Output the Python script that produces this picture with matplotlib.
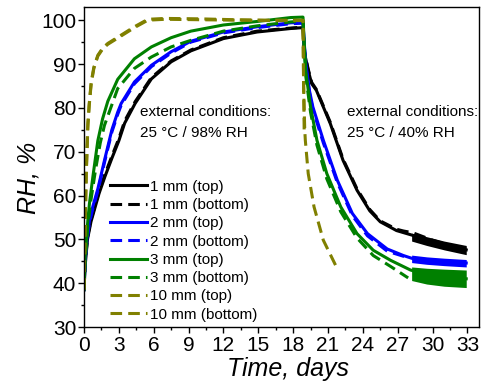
import matplotlib
matplotlib.use("Agg")
import matplotlib.pyplot as plt
from matplotlib.ticker import MultipleLocator

plt.rcParams['font.family'] = ['Liberation Sans', 'DejaVu Sans']

# ---------------- data (time in days, RH in %) ----------------
black_top_t = [0, 0.1, 0.3, 0.6, 0.9, 1.3, 1.8, 2.4, 3.0, 3.5, 4.4, 5.8, 7.5, 9.2, 12, 14.9, 17.8, 18.85,
               18.95, 19.1, 19.3, 19.6, 20.0, 21.2, 22.3, 23.5, 24.6, 25.5, 26.9, 29.2, 30.0, 31.0, 32.0, 32.9]
black_top_rh = [38.5, 44, 50, 54, 56.8, 60.5, 64.3, 68.5, 72.5, 76.5, 81, 86.6, 90.5, 93, 95.8, 97.3, 98.1, 98.3,
                93, 91, 88.5, 85.5, 84, 76.4, 68, 61.2, 56.5, 54, 52, 50.2, 49.5, 48.8, 48.1, 47.6]

black_bot_t = [0, 0.1, 0.3, 0.6, 0.9, 1.3, 1.8, 2.4, 3.0, 3.5, 4.4, 5.8, 7.5, 9.2, 12, 14.9, 17.8, 18.85,
               18.95, 19.1, 19.3, 19.6, 20.0, 21.2, 22.3, 23.5, 24.6, 25.5, 26.9, 27.5, 28.3, 29.2, 30.0, 31.0, 32.0, 32.9]
black_bot_rh = [38.5, 44.5, 50.5, 54.5, 57.2, 61, 64.8, 69, 73, 77, 81.4, 86.9, 90.7, 93.2, 96, 97.5, 98.2, 98.4,
                93.2, 91.2, 88.8, 85.8, 84.2, 76.7, 68.3, 61.5, 56.8, 54.2, 52.3, 51.9, 51.5, 50.6, 49.8, 49.0, 48.3, 47.8]

blue_top_t = [0, 0.1, 0.25, 0.47, 0.76, 1.19, 1.76, 2.4, 2.9, 3.2, 4.34, 5.8, 7.5, 9.2, 12, 14.9, 17.8, 18.85,
              18.95, 19.1, 19.4, 19.7, 20.6, 21.8, 23.1, 24.4, 26.1, 27.5, 28.3, 29.5, 31, 32.9]
blue_top_rh = [38.5, 45, 50, 54.3, 57.5, 61.5, 68, 75, 79, 81, 85.9, 89.7, 92.8, 95.2, 97.3, 98.5, 99.4, 99.5,
               95, 90, 84, 80.2, 72.6, 63.5, 55.9, 51.3, 47.8, 46.3, 45.6, 45.2, 44.9, 44.6]

blue_bot_t = [0, 0.1, 0.25, 0.47, 0.76, 1.19, 1.76, 2.4, 2.9, 3.2, 4.34, 5.8, 7.5, 9.2, 12, 14.9, 17.8, 18.85,
              18.95, 19.1, 19.4, 19.7, 20.6, 21.8, 23.1, 24.4, 26.1, 27.9]
blue_bot_rh = [38.5, 44.5, 49.5, 53.8, 57, 61, 67.5, 74.5, 78.5, 80.6, 85.5, 89.4, 92.5, 95, 97.1, 98.3, 99.2, 99.3,
               94.5, 89.5, 83.5, 79.6, 72, 63, 55.4, 50.8, 47.3, 45.8]

green_top_t = [0, 0.1, 0.33, 0.47, 0.76, 1.19, 1.6, 2.05, 2.9, 4.34, 5.8, 7.5, 9.2, 12, 14.9, 17.8, 18.85,
               18.95, 19.1, 19.5, 20.05, 20.9, 22.1, 23.5, 24.9, 26.4, 28.1, 30, 32.9]
green_top_rh = [38.5, 46, 54.3, 58.2, 64.2, 72.5, 77.5, 81.5, 86.5, 91.2, 93.9, 96, 97.5, 98.9, 99.7, 100.6, 100.7,
                95, 88, 80.2, 72.6, 65, 57.4, 51.3, 47.5, 45.2, 43.0, 41.6, 41.0]

green_bot_t = [0, 0.1, 0.33, 0.6, 1.0, 1.4, 1.76, 2.9, 4.34, 5.8, 7.5, 9.2, 12, 14.9, 17.8, 18.85,
               18.95, 19.1, 19.5, 20.05, 20.9, 22.1, 23.5, 24.9, 26.4, 27.9]
green_bot_rh = [38.5, 45, 53, 59, 66, 72, 76, 84.4, 89, 91.6, 93.9, 95.4, 97.5, 98.7, 99.6, 99.8,
                94, 87, 79, 71.5, 63.8, 56.3, 50.3, 46.3, 43.8, 41.2]

olive_top_t = [0, 0.05, 0.1, 0.2, 0.33, 0.45, 0.62, 0.85, 1.19, 1.6, 2.05, 3.2, 4.34, 5.5, 7, 10, 13, 16, 18.85,
               18.9, 19.0, 19.05, 19.3, 19.8, 20.6, 21.8]
olive_top_rh = [38.5, 46, 54, 66, 76.5, 81, 85.9, 89.3, 92, 93.6, 94.7, 96.6, 98.5, 100.2, 100.4, 100.3, 100.1, 100, 100,
                85, 75, 72.6, 65, 57.4, 49.8, 43.3]

olive_bot_t = [0, 0.05, 0.1, 0.2, 0.33, 0.45, 0.62, 0.85, 1.19, 1.6, 2.05, 3.2, 4.34, 5.5, 7, 10, 13, 16, 18.85,
               18.88, 18.92, 18.95]
olive_bot_rh = [38.5, 45, 53, 65, 75.5, 80.5, 85.5, 89, 91.8, 93.4, 94.5, 96.4, 98.3, 100.0, 100.2, 100.1, 100.0, 99.9, 99.9,
                92, 82, 75]

# noise envelopes of the late drying records
band_t = [28.2, 29.5, 31.0, 32.9]
black_band_lo = [49.6, 48.6, 47.6, 46.5]
black_band_hi = [51.4, 50.6, 49.6, 48.6]
blue_band_lo = [44.7, 44.3, 44.0, 43.7]
blue_band_hi = [46.4, 46.0, 45.7, 45.4]
green_band_lo = [40.6, 39.8, 39.3, 39.0]
green_band_hi = [43.7, 43.4, 43.2, 43.0]

labels = ['1 mm (top)', '1 mm (bottom)', '2 mm (top)', '2 mm (bottom)',
          '3 mm (top)', '3 mm (bottom)', '10 mm (top)', '10 mm (bottom)']

# ---------------- figure ----------------
fig = plt.figure(figsize=(4.95, 3.92), dpi=100)
ax = fig.add_axes([0.1697, 0.1658, 0.7980, 0.8163])

BLACK, BLUE, GREEN, OLIVE = '#000000', '#0000FF', '#008000', '#808000'
dash = (0, (3.8, 2.0))
lw = 2.2

ax.fill_between(band_t, black_band_lo, black_band_hi, color=BLACK, lw=0)
ax.fill_between(band_t, blue_band_lo, blue_band_hi, color=BLUE, lw=0)
ax.fill_between(band_t, green_band_lo, green_band_hi, color=GREEN, lw=0)

h1, = ax.plot(black_top_t, black_top_rh, color=BLACK, lw=lw, ls='-')
h2, = ax.plot(black_bot_t, black_bot_rh, color=BLACK, lw=lw, ls=dash)
h3, = ax.plot(blue_bot_t, blue_bot_rh, color=BLUE, lw=lw, ls=dash)
h4, = ax.plot(blue_top_t, blue_top_rh, color=BLUE, lw=lw, ls='-')
h5, = ax.plot(green_bot_t, green_bot_rh, color=GREEN, lw=lw, ls=dash)
h6, = ax.plot(green_top_t, green_top_rh, color=GREEN, lw=lw, ls='-')
h7, = ax.plot(olive_top_t, olive_top_rh, color=OLIVE, lw=lw, ls=dash)
h8, = ax.plot(olive_bot_t, olive_bot_rh, color=OLIVE, lw=lw, ls=dash)

ax.set_xlim(0, 34)
ax.set_ylim(30, 103)
ax.xaxis.set_major_locator(MultipleLocator(3))
ax.xaxis.set_minor_locator(MultipleLocator(1.5))
ax.yaxis.set_major_locator(MultipleLocator(10))
ax.yaxis.set_minor_locator(MultipleLocator(5))
ax.tick_params(which='major', direction='out', length=4, width=1, labelsize=15, pad=1.5)
ax.tick_params(which='minor', direction='out', length=2.2, width=1)
ax.tick_params(axis='x', which='major', pad=2.5)
for s in ax.spines.values():
    s.set_linewidth(1.0)

ax.set_xlabel('Time, days', fontsize=18, style='italic')
ax.set_ylabel('RH, %', fontsize=18, style='italic')
ax.xaxis.set_label_coords(0.516, -0.095)
ax.yaxis.set_label_coords(-0.11, 0.466)

ax.text(4.86, 79.0, 'external conditions:', fontsize=11, va='center', ha='left')
ax.text(4.86, 74.2, '25 \u00b0C / 98% RH', fontsize=11, va='center', ha='left')
ax.text(22.6, 79.0, 'external conditions:', fontsize=11, va='center', ha='left')
ax.text(22.6, 74.2, '25 \u00b0C / 40% RH', fontsize=11, va='center', ha='left')

handles = [h1, h2, h4, h3, h6, h5, h7, h8]
ax.legend(handles, labels, loc='upper left', bbox_to_anchor=(0.066, 0.46),
          frameon=False, fontsize=11, handlelength=2.4, handletextpad=0.2,
          labelspacing=0.28, borderpad=0, borderaxespad=0)

fig.savefig('out.png', dpi=100)
